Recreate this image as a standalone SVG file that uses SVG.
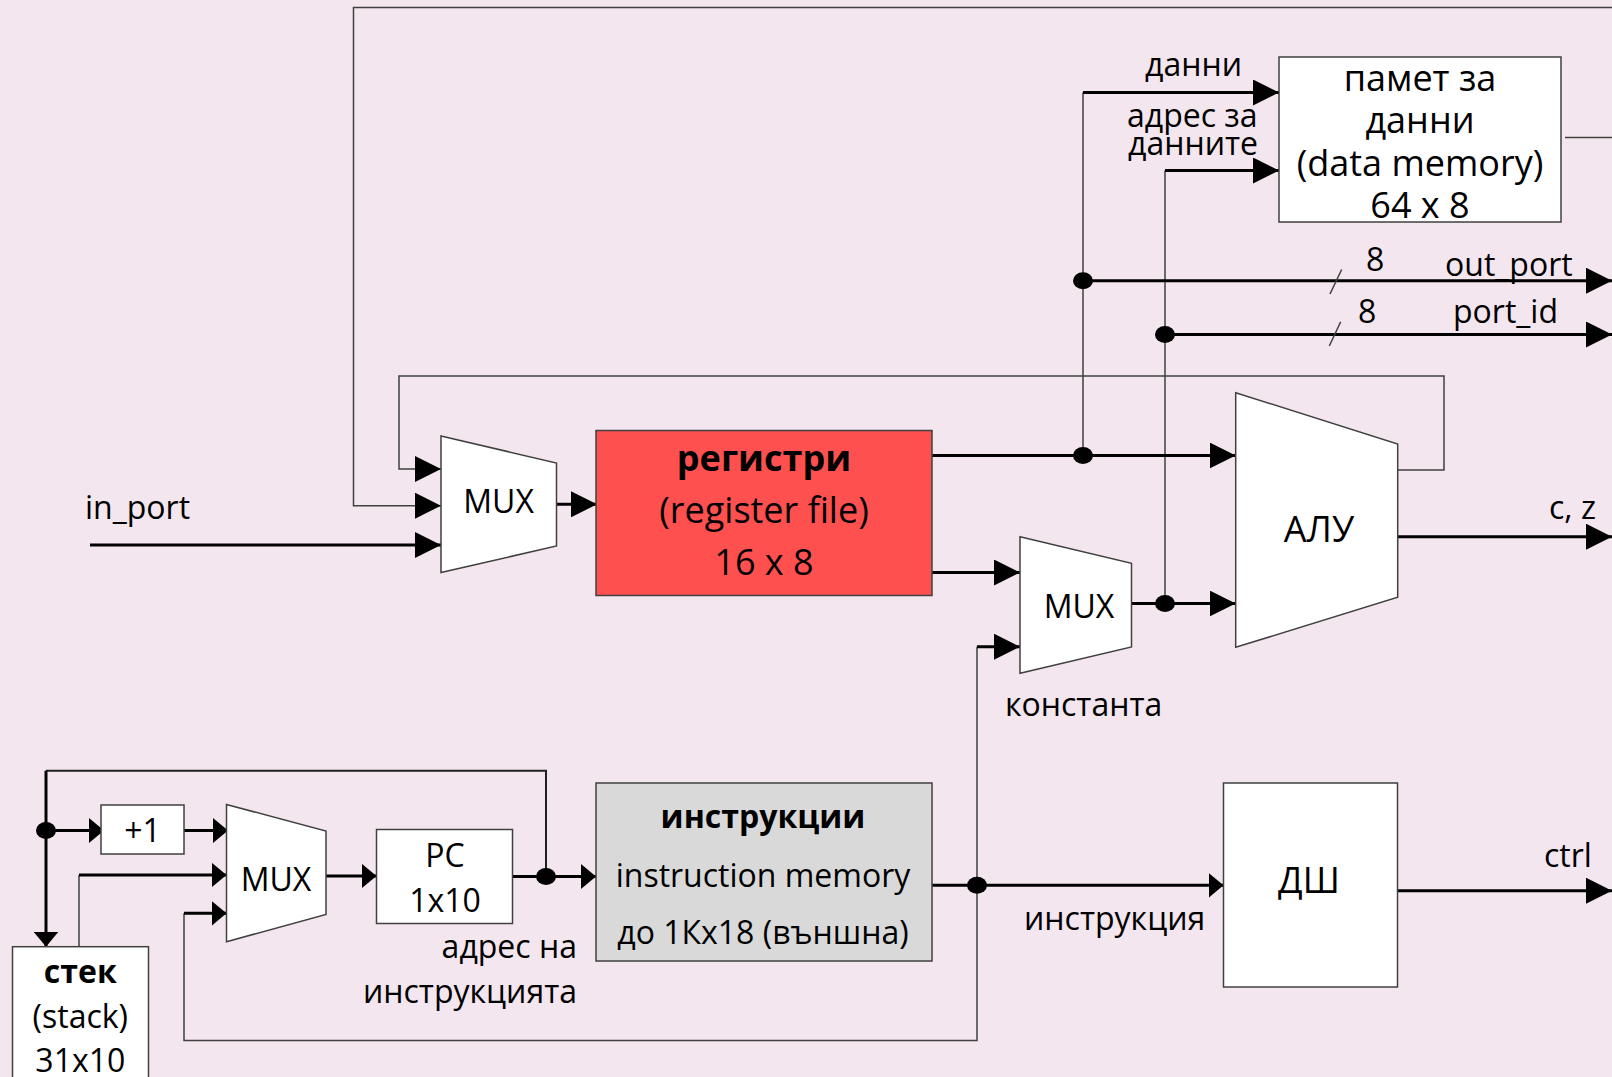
<svg xmlns="http://www.w3.org/2000/svg" width="1612" height="1077" viewBox="0 0 1612 1077">
<style>
text{font-family:"Open Sans","Noto Sans",sans-serif;fill:#000}
.lb{font-size:32px}
.bx{font-size:36px}
.b{font-weight:bold}
.c{text-anchor:middle}
.e{text-anchor:end}
.box{stroke:#404040;stroke-width:1.5}
.th{fill:none;stroke:#000;stroke-width:3}
.tn{fill:none;stroke:#404040;stroke-width:1.5}
.md{fill:none;stroke:#202020;stroke-width:2}
.A{marker-end:url(#a)}
.N{marker-end:url(#n)}
</style>
<defs>
<marker id="a" markerUnits="userSpaceOnUse" viewBox="0 0 26 26" markerWidth="26" markerHeight="26" refX="26" refY="13" orient="auto"><path d="M0,0L26,13L0,26z" fill="#000"/></marker>
<marker id="n" markerUnits="userSpaceOnUse" viewBox="0 0 15 25" markerWidth="15" markerHeight="25" refX="15" refY="12.5" orient="auto"><path d="M0,0L15,12.5L0,25z" fill="#000"/></marker>
</defs>
<rect width="1612" height="1077" fill="#F3E6EE"/>

<g id="connectors">
<path class="tn A" d="M1612,7.5H353.5V505.7H441"/>
<path class="tn" d="M1565,137.5H1612"/>
<path class="tn A" d="M1397.7,470H1444V376H399V469H441"/>
<path class="tn" d="M1083,455.5V92.5"/>
<path class="th A" d="M1083,92.5H1279"/>
<path class="tn" d="M1165,603.5V170.5"/>
<path class="th A" d="M1165,170.5H1279"/>
<path class="th A" d="M1083,280.7H1612"/>
<path class="th A" d="M1165,334.5H1612"/>
<path class="tn" d="M1341.7,269.5L1330,294"/>
<path class="tn" d="M1340.7,321.7L1329.3,346"/>
<path class="th A" d="M90,545H441"/>
<path class="th A" d="M556.5,504.3H597"/>
<path class="th A" d="M932,455.5H1235.7"/>
<path class="th A" d="M932,572.5H1020"/>
<path class="th A" d="M1131.5,603.5H1235.7"/>
<path class="th A" d="M1397.7,536.7H1612"/>
<path class="tn" d="M977,646.7V1040.5H184V913.3"/>
<path class="th A" d="M977,646.7H1020"/>
<path class="th N" d="M184,913.3H226.5"/>
<path class="th N" d="M932,885.3H1223.5"/>
<path class="th A" d="M1397,890.7H1612"/>
<path class="md" d="M546,876.5V770.7H46"/>
<path class="th N" d="M46,770.7V946.7"/>
<path class="th N" d="M46,830.5H104"/>
<path class="th N" d="M184,830.5H228"/>
<path class="tn" d="M79,946.7V875"/>
<path class="th N" d="M79,875H226.5"/>
<path class="th N" d="M326,876H376.5"/>
<path class="th N" d="M512.5,876.5H596"/>
<ellipse cx="1083" cy="455.5" rx="10" ry="8.5"/>
<ellipse cx="1083" cy="280.7" rx="10" ry="8.5"/>
<ellipse cx="1165" cy="334.5" rx="10" ry="8.5"/>
<ellipse cx="1165" cy="603.5" rx="10" ry="8.5"/>
<ellipse cx="977" cy="885.3" rx="10" ry="8.5"/>
<ellipse cx="46" cy="830.5" rx="10" ry="8.5"/>
<ellipse cx="546" cy="876.5" rx="10" ry="8.5"/>
</g>

<g id="labels">
<text class="lb" x="85" y="519">in_port</text>
<text class="lb" x="1145" y="76">данни</text>
<text class="lb" x="1127" y="127">адрес за</text>
<text class="lb" x="1128" y="155">данните</text>
<text class="lb" x="1366" y="270.7">8</text>
<text class="lb" x="1445" y="276">out_port</text>
<text class="lb" x="1358" y="323.3">8</text>
<text class="lb" x="1453" y="322.7">port_id</text>
<text class="lb" x="1549" y="519">c, z</text>
<text class="lb" x="1005" y="716">константа</text>
<text class="lb" x="1024" y="930">инструкция</text>
<text class="lb" x="1544" y="866.6">ctrl</text>
<text class="lb e" x="577" y="958.3">адрес на</text>
<text class="lb e" x="577" y="1003.3">инструкцията</text>
</g>

<g id="data-memory">
<rect class="box" x="1279" y="57" width="282" height="165" fill="#fff"/>
<text class="bx c" x="1420" y="91">памет за</text>
<text class="bx c" x="1420" y="133">данни</text>
<text class="bx c" x="1420" y="176">(data memory)</text>
<text class="bx c" x="1420" y="218">64 x 8</text>
</g>

<g id="mux1">
<polygon class="box" points="441,436 556.5,463 556.5,546 441,572.5" fill="#fff"/>
<text class="lb c" x="498.6" y="512.7">MUX</text>
</g>

<g id="register-file">
<rect class="box" x="596" y="430.5" width="336" height="165" fill="#FF5050"/>
<text class="bx c b" x="764" y="471">регистри</text>
<text class="bx c" x="764" y="523">(register file)</text>
<text class="bx c" x="764" y="575">16 x 8</text>
</g>

<g id="mux2">
<polygon class="box" points="1020,536.7 1131.5,563.3 1131.5,647 1020,673.3" fill="#fff"/>
<text class="lb c" x="1079" y="618.3">MUX</text>
</g>

<g id="alu">
<polygon class="box" points="1235.7,392.7 1397.7,444 1397.7,597.3 1235.7,647.3" fill="#fff"/>
<text class="bx c" x="1319" y="541.7">АЛУ</text>
</g>

<g id="instruction-memory">
<rect class="box" x="596" y="783" width="336" height="178" fill="#D9D9D9"/>
<text class="lb c b" x="763" y="828.3">инструкции</text>
<text class="lb c" x="763" y="886.7">instruction memory</text>
<text class="lb c" x="763" y="944">до 1Кх18 (външна)</text>
</g>

<g id="decoder">
<rect class="box" x="1223.5" y="783" width="174" height="204" fill="#fff"/>
<text class="bx c" x="1309" y="892.7">ДШ</text>
</g>

<g id="plus1">
<rect class="box" x="101" y="805" width="83" height="49" fill="#fff"/>
<text class="lb c" x="142.5" y="841.7">+1</text>
</g>

<g id="mux3">
<polygon class="box" points="226.5,804.5 326,831 326,914.5 226.5,941.7" fill="#fff"/>
<text class="lb c" x="276" y="890.7">MUX</text>
</g>

<g id="pc">
<rect class="box" x="376.5" y="829.5" width="136" height="94" fill="#fff"/>
<text class="lb c" x="445" y="866.7">PC</text>
<text class="lb c" x="445" y="911.7">1x10</text>
</g>

<g id="stack">
<rect class="box" x="12.5" y="946.7" width="136" height="140" fill="#fff"/>
<text class="lb c b" x="80.3" y="983.3">стек</text>
<text class="lb c" x="80.3" y="1028">(stack)</text>
<text class="lb c" x="80.3" y="1071.7">31x10</text>
</g>
</svg>
